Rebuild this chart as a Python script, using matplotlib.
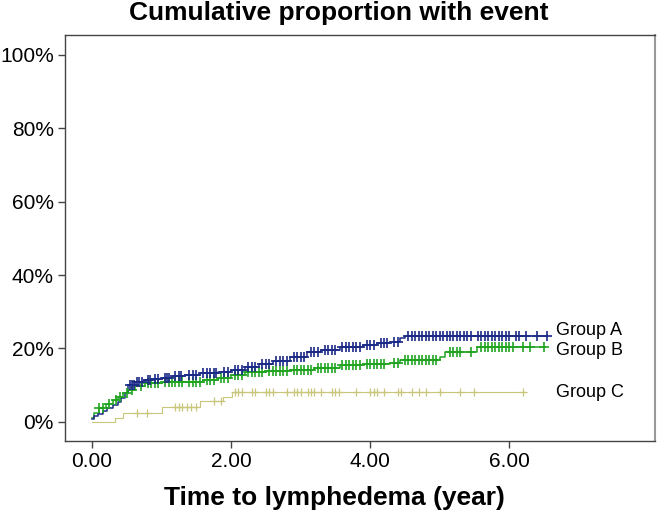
import matplotlib.pyplot as plt
import numpy as np

plt.rcParams['font.family'] = ['Liberation Sans', 'DejaVu Sans']

# step curves: event times and cumulative proportion after each step
a_times = [0, 0.03, 0.08, 0.15, 0.22, 0.3, 0.37, 0.42, 0.47, 0.52, 0.62, 0.75, 0.86, 1.0, 1.15,
           1.34, 1.55, 1.81, 2.0, 2.2, 2.4, 2.6, 2.85, 3.09, 3.3, 3.57, 3.9, 4.1, 4.29, 4.43, 4.5]
a_cum = [0.008, 0.015, 0.022, 0.03, 0.038, 0.046, 0.054, 0.065, 0.08, 0.10, 0.109, 0.113, 0.117, 0.12, 0.124,
         0.128, 0.132, 0.136, 0.142, 0.15, 0.158, 0.166, 0.177, 0.19, 0.197, 0.205, 0.21, 0.214, 0.218, 0.229, 0.234]
a_end = 6.55

b_times = [0, 0.03, 0.1, 0.2, 0.3, 0.37, 0.45, 0.52, 0.62, 0.76, 1.0, 1.34, 1.6, 1.81, 2.0, 2.2,
           2.5, 2.85, 3.2, 3.57, 3.9, 4.29, 4.43, 5.0, 5.08, 5.54]
b_cum = [0.01, 0.025, 0.038, 0.05, 0.06, 0.068, 0.078, 0.087, 0.097, 0.106, 0.108, 0.109, 0.114, 0.12, 0.128, 0.136,
         0.139, 0.142, 0.148, 0.155, 0.158, 0.16, 0.169, 0.177, 0.191, 0.205]
b_end = 6.52

c_times = [0, 0.33, 0.45, 1.0, 1.55, 1.89, 2.01]
c_cum = [0.0, 0.011, 0.024, 0.041, 0.057, 0.068, 0.082]
c_end = 6.23

# censored observations (+ marks)
a_censor = [0.55, 0.58, 0.6, 0.65, 0.68, 0.72, 0.8, 0.83, 0.9, 0.95, 1.05, 1.08, 1.1, 1.2, 1.25, 1.28,
            1.4, 1.45, 1.5, 1.6, 1.65, 1.7, 1.75, 1.78, 1.9, 1.95, 2.05, 2.1, 2.15, 2.25, 2.3, 2.35,
            2.45, 2.5, 2.55, 2.65, 2.7, 2.75, 2.8, 2.9, 2.95, 3.0, 3.05, 3.15, 3.2, 3.25, 3.35, 3.4,
            3.45, 3.5, 3.6, 3.65, 3.7, 3.75, 3.8, 3.85, 3.95, 4.0, 4.05, 4.15, 4.2, 4.25, 4.35, 4.4,
            4.55, 4.6, 4.65, 4.7, 4.75, 4.8, 4.85, 4.9, 4.95, 5.0, 5.05, 5.1, 5.15, 5.2, 5.25, 5.3,
            5.35, 5.4, 5.45, 5.55, 5.6, 5.65, 5.7, 5.75, 5.8, 5.85, 5.9, 5.95, 6.0, 6.1, 6.15, 6.25,
            6.4, 6.55]
b_censor = [0.1, 0.15, 0.25, 0.35, 0.4, 0.5, 0.58, 0.7, 0.8, 0.85, 0.9, 0.95, 1.05, 1.1, 1.15, 1.2,
            1.25, 1.3, 1.4, 1.45, 1.5, 1.55, 1.65, 1.7, 1.75, 1.85, 1.9, 1.95, 2.05, 2.1, 2.15, 2.25,
            2.3, 2.35, 2.4, 2.45, 2.55, 2.6, 2.65, 2.7, 2.75, 2.8, 2.9, 2.95, 3.0, 3.05, 3.1, 3.15,
            3.25, 3.3, 3.35, 3.4, 3.45, 3.5, 3.6, 3.65, 3.7, 3.75, 3.8, 3.85, 3.95, 4.0, 4.05, 4.1,
            4.15, 4.2, 4.35, 4.4, 4.5, 4.55, 4.6, 4.65, 4.7, 4.75, 4.8, 4.85, 4.9, 4.95, 5.15, 5.2,
            5.25, 5.3, 5.45, 5.6, 5.65, 5.7, 5.75, 5.8, 5.85, 5.9, 5.95, 6.0, 6.05, 6.2, 6.3, 6.5]
c_censor = [0.65, 0.79, 1.2, 1.25, 1.3, 1.36, 1.42, 1.5, 1.75, 1.85, 2.05, 2.1, 2.15, 2.3, 2.35, 2.5,
            2.55, 2.6, 2.8, 2.9, 2.95, 3.0, 3.1, 3.15, 3.2, 3.3, 3.45, 3.5, 3.55, 3.8, 4.0, 4.05,
            4.1, 4.2, 4.4, 4.45, 4.6, 4.7, 4.8, 5.0, 5.3, 5.5, 6.2]

group_names = ['Group A', 'Group B', 'Group C']
group_colors = ['#1b2a86', '#20a420', '#c8c67a']
label_y = [0.25, 0.195, 0.08]

fig = plt.figure(figsize=(6.58, 5.15), dpi=100)
ax = fig.add_axes([65 / 658, 74 / 515, 590 / 658, 406 / 515])


def draw_curve(times, cum, end, censor, color, lw, ms, mew):
    t = np.append(times, end)
    v = np.append(cum, cum[-1])
    ax.step(t, v, where='post', color=color, lw=lw, zorder=2)
    idx = np.searchsorted(times, censor, side='right') - 1
    cv = np.array(cum)[idx]
    ax.plot(censor, cv, ls='none', marker='+', color=color, ms=ms, mew=mew, zorder=3)


draw_curve(c_times, c_cum, c_end, c_censor, group_colors[2], 0.8, 6, 0.9)
draw_curve(b_times, b_cum, b_end, b_censor, group_colors[1], 1.1, 6.5, 1.2)
draw_curve(a_times, a_cum, a_end, a_censor, group_colors[0], 1.1, 6.5, 1.2)

for name, y in zip(group_names, label_y):
    ax.text(6.68, y, name, fontsize=13, va='center', ha='left', color='black')

ax.set_xlim(-0.39, 8.1)
ax.set_ylim(-0.052, 1.054)
ax.set_xticks([0, 2, 4, 6])
ax.set_xticklabels(['0.00', '2.00', '4.00', '6.00'])
ax.set_yticks([0, 0.2, 0.4, 0.6, 0.8, 1.0])
ax.set_yticklabels(['0%', '20%', '40%', '60%', '80%', '100%'])
ax.tick_params(labelsize=15, length=5, width=1, color='#444444', direction='out', pad=3)

for side in ['left', 'bottom', 'top']:
    ax.spines[side].set_color('#444444')
    ax.spines[side].set_linewidth(1)
ax.spines['right'].set_color('#999999')
ax.spines['right'].set_linewidth(1.5)

fig.text(339 / 658, 1 - 20 / 515, 'Cumulative proportion with event', ha='center', va='baseline',
         fontsize=19, fontweight='bold')
fig.text(334 / 658, 1 - 505 / 515, 'Time to lymphedema (year)', ha='center', va='baseline',
         fontsize=19, fontweight='bold')

fig.savefig('out.png', dpi=100)
